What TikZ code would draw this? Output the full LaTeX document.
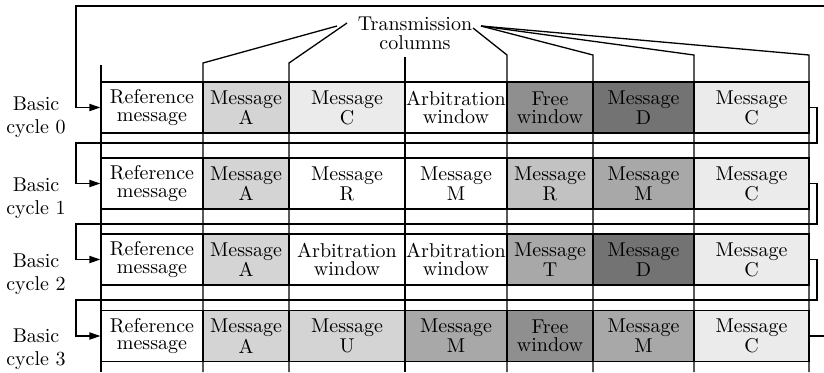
\documentclass[tikz,border=0pt]{standalone}
\usetikzlibrary{arrows.meta}
\definecolor{Pale}{gray}{0.92}
\definecolor{Light}{gray}{0.83}
\definecolor{LightMid}{gray}{0.76}
\definecolor{Mid}{gray}{0.66}
\definecolor{Dark}{gray}{0.56}
\definecolor{Darker}{gray}{0.45}
\def\colx{{101,203,289,405,507,593,694,809}}
% one row of transmission cells: row index, centre y, list c/text/fill
\newcommand\cellrow[3]{%
  \foreach \c/\txt/\fil in {#3}{%
    \pgfmathsetmacro\xl{\colx[\c]}\pgfmathsetmacro\xr{\colx[\c+1]}%
    \node[cell,fill=\fil,minimum width={(\xr-\xl)*.5pt}] (r#1c\c) at ({(\xl+\xr)/2},#2) {\txt};}}

\begin{document}
\begin{tikzpicture}[x=.5pt,y=-.5pt,line width=.65pt,
  cell/.style={draw,inner sep=0pt,minimum height=25.5pt,align=center,font=\fontsize{10}{8.8}\selectfont},
  cyclelbl/.style={align=center,inner sep=0pt,font=\fontsize{10}{11.5}\selectfont},
  ret/.style={-{Triangle[length=5.5pt,width=3.6pt]}},
  lead/.style={line join=miter}]
\useasboundingbox (0,0) rectangle (824,372);

% label and leaders to the column lines
\node[align=center,inner sep=0pt,font=\fontsize{10}{9.6}\selectfont] (tc) at (415,33) {Transmission\\columns};
\coordinate (la) at (337,26); \coordinate (lb) at (347,23);
\coordinate (ra) at (473,28); \coordinate (rb) at (481,26);
\draw[lead] (la) -- (203,63) -- (203,372);
\draw[lead] (lb) -- (289,63) -- (289,372);
\draw[lead] (ra) -- (507,55) -- (507,372);
\draw[lead] (rb) -- (593,55) -- (593,372);
\draw[lead] (rb) -- (694,55) -- (694,372);
\draw[lead] (rb) -- (809,55) -- (809,372);
\draw (101,65) -- (101,372);
\draw (405,57) -- (405,372);

% cells
\cellrow{0}{107.5}{0/{Reference\\message}/white,1/{Message\\A}/Light,2/{Message\\C}/Pale,3/{Arbitration\\window}/white,4/{Free\\window}/Dark,5/{Message\\D}/Darker,6/{Message\\C}/Pale}
\cellrow{1}{183.5}{0/{Reference\\message}/white,1/{Message\\A}/Light,2/{Message\\R}/white,3/{Message\\M}/white,4/{Message\\R}/LightMid,5/{Message\\M}/Mid,6/{Message\\C}/Pale}
\cellrow{2}{259.5}{0/{Reference\\message}/white,1/{Message\\A}/Light,2/{Arbitration\\window}/white,3/{Arbitration\\window}/white,4/{Message\\T}/Mid,5/{Message\\D}/Darker,6/{Message\\C}/Pale}
\cellrow{3}{336}{0/{Reference\\message}/white,1/{Message\\A}/Light,2/{Message\\U}/Light,3/{Message\\M}/Mid,4/{Free\\window}/Dark,5/{Message\\M}/Mid,6/{Message\\C}/Pale}

% cycle labels
\node[cyclelbl] (b0) at (36,117) {Basic\\cycle 0};
\node[cyclelbl] (b1) at (36,198) {Basic\\cycle 1};
\node[cyclelbl] (b2) at (36,274) {Basic\\cycle 2};
\node[cyclelbl] (b3) at (36,349) {Basic\\cycle 3};

% return paths from one cycle to the next
\coordinate (wrapin) at (824,6);
\coordinate (wrapout) at (824,336);
\draw[ret] (wrapin) -- (76,6) |- (r0c0.west);
\draw[ret] (r0c6.east) -| (817,143) -- (76,143) |- (r1c0.west);
\draw[ret] (r1c6.east) -| (817,224) -- (76,224) |- (r2c0.west);
\draw[ret] (r2c6.east) -| (817,300) -- (76,300) |- (r3c0.west);
\draw (r3c6.east) -- (wrapout);
\end{tikzpicture}
\end{document}
